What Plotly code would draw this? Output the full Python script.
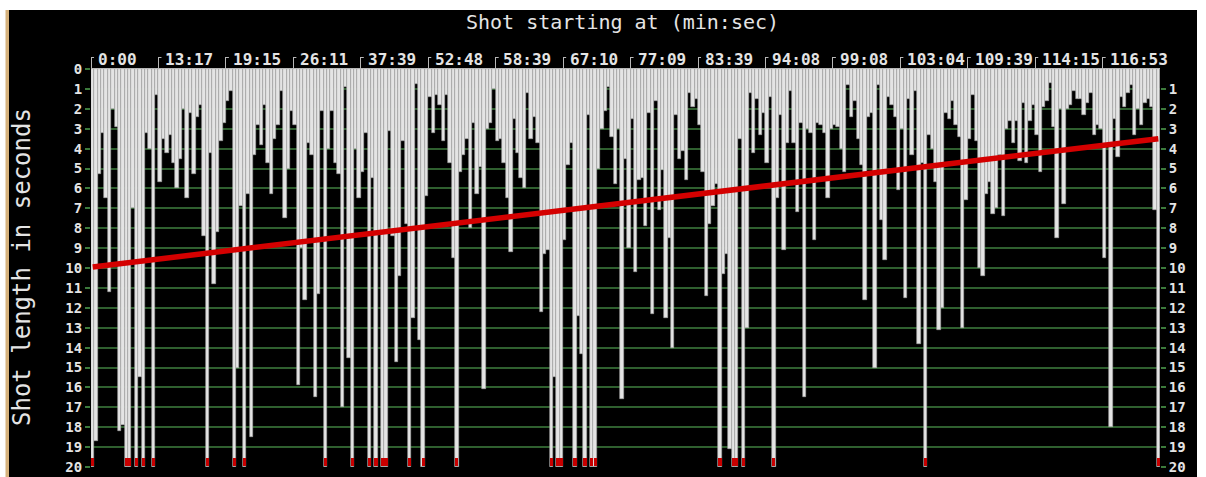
import plotly.graph_objects as go

# ---------------- data ----------------
TICK_LABELS = ["0:00", "13:17", "19:15", "26:11", "37:39", "52:48", "58:39", "67:10",
               "77:09", "83:39", "94:08", "99:08", "103:04", "109:39", "114:15", "116:53"]
SHOTS_PER_TICK = 20
Y_MAX = 20
OVER = 25  # shot longer than the 20 s scale (drawn clipped, with red marker)

seg_a = [OVER, 18.7, 5.3, 3.2, 6.5, 11.2, 2.0, 2.9, 18.2, 17.9, OVER, OVER, 7.0, OVER, 15.5, OVER,
         3.2, 4.0, OVER, 1.3, 5.7, 3.5, 4.2, 3.3, 4.7, 6.0, 4.5, 2.0, 6.5, 2.2, 5.3, 2.4, 1.8, 8.4,
         OVER, 4.2, 10.8, 8.2, 3.6, 2.7, 1.6, 1.1, OVER, 15.0, 6.9, OVER, 6.3, 18.5, 4.3, 2.8, 3.8,
         1.8, 4.7]
seg_b = [6.3, 3.5, 2.8, 1.1, 7.5, 5.0, 2.1, 2.8, 15.9, 9.0, 11.6, 3.7, 4.3, 16.5, 11.3, 2.1, OVER,
         4.0, 2.1, 4.7, 5.3, 17.0, 0.9, 14.5, OVER, 4.0, 6.5, 5.2, 3.2, OVER, 5.5, OVER, 8.2, OVER,
         OVER, 3.1, 8.4, 14.7, 10.4, 3.6, 7.8, OVER, 12.5, 0.75, 13.6, OVER, 6.4, 1.4, 3.2, 1.3,
         1.8, 3.6, 1.3]
seg_c = [4.7, 9.5, OVER, 5.2, 4.3, 3.5, 8.0, 2.7, 6.3, 4.9, 16.1, 3.0, 2.7, 1.0, 3.6, 3.5, 4.7,
         6.5, 9.2, 2.5, 4.2, 5.5, 6.0, 1.2, 3.5, 2.4, 3.7, 12.2, 9.3, 9.1, OVER, 15.5, OVER, OVER,
         8.6, 4.8, 3.7, OVER, 12.4, 14.3, OVER, 2.3, OVER, OVER, 5.0, 3.0, 2.1, 0.9, 3.4, 5.8,
         3.0, 16.6]
seg_d = [4.5, 9.0, 2.5, 10.2, 5.6, 5.5, 7.9, 2.2, 12.3, 1.6, 7.1, 5.1, 12.5, 8.5, 14.0, 2.3, 4.5,
         4.1, 5.6, 1.2, 1.9, 1.5, 2.8, 5.2, 11.4, 7.8, 6.9, 5.8, OVER, 10.3, 9.3, 19.1, OVER, OVER,
         3.5, OVER, 13.0, 1.2, 4.2, 1.5, 3.3, 2.2, 4.7, 1.4, OVER, 6.5, 2.3, 9.1, 3.7, 1.1, 3.7,
         7.2, 2.7]
seg_e = [16.5, 3.0, 3.2, 8.6, 2.7, 2.8, 3.2, 6.5, 3.0, 2.8, 2.9, 4.0, 5.2, 0.8, 2.4, 1.6, 3.5,
         4.8, 11.6, 2.4, 2.2, 15.0, 0.8, 7.6, 9.6, 1.4, 1.8, 2.4, 6.1, 3.0, 11.5, 1.5, 4.3, 1.1,
         13.8, 4.7, OVER, 3.3, 4.0, 5.7, 13.1, 12.0, 2.2, 2.5, 1.6, 2.8, 3.4, 13.0, 6.6, 3.5, 1.3,
         3.6, 10.0]
seg_f = [10.4, 6.3, 5.7, 7.3, 7.0, 4.3, 7.4, 3.0, 2.6, 3.7, 2.6, 4.6, 1.7, 4.7, 2.6, 1.8, 3.3,
         5.2, 1.9, 1.6, 0.7, 2.9, 8.5, 2.0, 6.8, 2.0, 1.8, 1.1, 1.5, 1.5, 2.3, 1.7, 1.2, 3.3, 2.8,
         3.0, 9.5, 3.9, 18.0, 2.5, 4.4, 1.4, 1.9, 1.2, 0.8, 3.3, 2.0, 2.8, 1.7, 1.5, 1.9, 7.1, OVER]

shot_lengths = seg_a + seg_b + seg_c + seg_d + seg_e + seg_f
trend_first = 9.95
trend_last = 3.5

# ---------------- figure ----------------
N = len(shot_lengths)
shots = list(range(N))
shown = [min(v, Y_MAX) for v in shot_lengths]
long_shots = [i for i, v in enumerate(shot_lengths) if v > Y_MAX]

W, H = 1206, 477
L, R, T, B = 91, 46, 69, 10
PW, PH = W - L - R, H - T - B

def px_x(p):
    return (p - L) / PW

def px_y(p):
    return 1 - (p - T) / PH

MONO = "DejaVu Sans Mono"
TXT = "#e4e4e4"
GREEN = "#2f5f2f"

fig = go.Figure()
fig.add_trace(go.Bar(
    x=shots, y=shown,
    marker=dict(color="#e4e4e4", line=dict(color="#a4a4a4", width=0.6)),
    hoverinfo="skip", showlegend=False))
fig.add_trace(go.Bar(
    x=long_shots, y=[0.4] * len(long_shots), base=[Y_MAX - 0.45] * len(long_shots),
    width=0.95, marker=dict(color="#c80000", line=dict(width=0)),
    hoverinfo="skip", showlegend=False))
fig.add_trace(go.Scatter(
    x=[0, N - 1], y=[trend_first, trend_last], mode="lines",
    line=dict(color="#d40000", width=5.5), hoverinfo="skip", showlegend=False))
fig.add_trace(go.Scatter(
    x=[0], y=[0], yaxis="y2", mode="markers", marker=dict(opacity=0),
    hoverinfo="skip", showlegend=False))

tick_pos = [k * SHOTS_PER_TICK - 0.5 for k in range(len(TICK_LABELS))]

annotations = []
for pos, lab in zip(tick_pos, TICK_LABELS):
    annotations.append(dict(
        x=pos, xref="x", y=px_y(59), yref="paper", text=lab, showarrow=False,
        xanchor="left", yanchor="middle", xshift=5,
        font=dict(family=MONO, size=16, color=TXT, weight="bold")))
annotations.append(dict(
    x=px_x(622), xref="paper", y=px_y(22), yref="paper",
    text="Shot starting at (min:sec)", showarrow=False, xanchor="center", yanchor="middle",
    font=dict(family=MONO, size=20, color=TXT)))
annotations.append(dict(
    x=px_x(22), xref="paper", y=px_y(267), yref="paper",
    text="Shot length in seconds", showarrow=False, textangle=-90,
    xanchor="center", yanchor="middle",
    font=dict(family=MONO, size=24, color=TXT)))

shapes = [
    dict(type="rect", xref="paper", yref="paper", layer="below",
         x0=px_x(9), x1=px_x(1197), y0=px_y(480), y1=px_y(10),
         fillcolor="black", line=dict(width=0)),
    dict(type="rect", xref="paper", yref="paper", layer="below",
         x0=px_x(5.5), x1=px_x(9), y0=px_y(480), y1=px_y(10),
         fillcolor="#d6b27c", line=dict(width=0)),
]
for pos in tick_pos:
    shapes.append(dict(type="line", xref="x", yref="paper", layer="above",
                       x0=pos, x1=pos + 0.9, y0=px_y(57.5), y1=px_y(57.5),
                       line=dict(color="#b8b8b8", width=1)))

fig.update_layout(
    width=W, height=H, margin=dict(l=L, r=R, t=T, b=B, autoexpand=False),
    paper_bgcolor="white", plot_bgcolor="black",
    barmode="overlay", bargap=0,
    annotations=annotations, shapes=shapes,
    xaxis=dict(range=[-0.5, N - 0.5], side="top", tickvals=tick_pos, showticklabels=False,
               ticks="outside", ticklen=11, tickcolor="#b8b8b8", tickwidth=1,
               showline=True, linecolor="#b8b8b8", linewidth=1,
               showgrid=False, zeroline=False, fixedrange=True),
    yaxis=dict(range=[Y_MAX, 0], tickvals=list(range(0, Y_MAX + 1)),
               tickfont=dict(family=MONO, size=14, color=TXT, weight="bold"),
               ticks="outside", ticklen=5, tickcolor="#3c7a3c", tickwidth=1.5,
               showgrid=True, gridcolor=GREEN, gridwidth=1.5,
               zeroline=False, showline=False, fixedrange=True),
    yaxis2=dict(range=[Y_MAX, 0], overlaying="y", side="right",
                tickvals=list(range(1, Y_MAX + 1)),
                tickfont=dict(family=MONO, size=14, color=TXT, weight="bold"),
                ticks="outside", ticklen=5, tickcolor="#3c7a3c", tickwidth=1.5,
                showgrid=False, zeroline=False, showline=False, fixedrange=True),
)

fig.write_html("out.html", config={"displayModeBar": False},
               post_script="document.body.style.margin='0';document.body.style.overflow='hidden';")
